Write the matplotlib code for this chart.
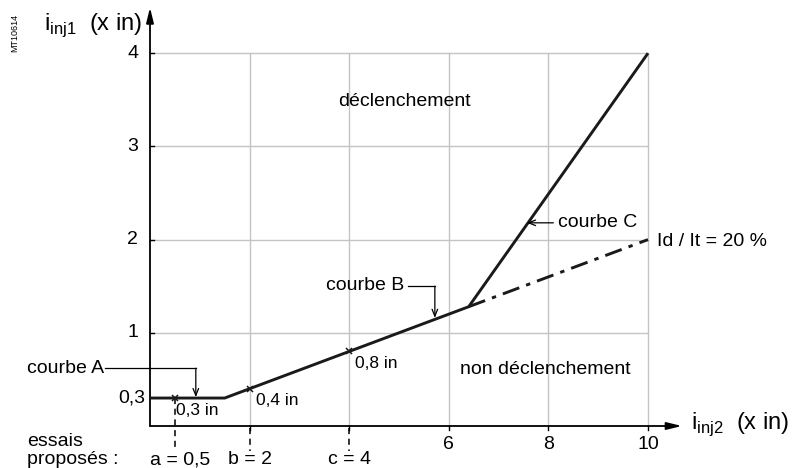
import matplotlib.pyplot as plt

plt.rcParams['font.family'] = ['Liberation Sans', 'DejaVu Sans']

# tripping curve (x in units of in)
curve_x = [0, 1.5, 6.4, 10]
curve_y = [0.3, 0.3, 1.28, 4.0]
# Id / It = 20 % continuation
dash_x = [6.4, 10]
dash_y = [1.28, 2.0]

# proposed tests
trial_x = [0.5, 2, 4]
trial_y = [0.3, 0.4, 0.8]
trial_vals = ["0,3 in", "0,4 in", "0,8 in"]
trial_names = ["a = 0,5", "b = 2", "c = 4"]

x_grid = [2, 4, 6, 8, 10]
y_grid = [1, 2, 3, 4]
y_ticklabels = ["1", "2", "3", "4"]
x_ticklabels = ["6", "8", "10"]
x_ticklabel_pos = [6, 8, 10]

W, H = 803, 468
fig = plt.figure(figsize=(W / 100, H / 100), dpi=100)
ax = fig.add_axes([0, 0, 1, 1])
# origin at pixel (150, 426), 49.8 px per x unit, 93.2 px per y unit
x0, y0, sx, sy = 150, 426, 49.8, 93.2
ax.set_xlim(-x0 / sx, (W - x0) / sx)
ax.set_ylim(-(H - y0) / sy, y0 / sy)
ax.axis('off')

grid_c = '#c4c4c4'
for gx in x_grid:
    ax.plot([gx, gx], [0, 4], color=grid_c, lw=1.0, zorder=1)
for gy in y_grid:
    ax.plot([0, 10], [gy, gy], color=grid_c, lw=1.0, zorder=1)

# axes with arrow heads
ax.annotate('', xy=(10.68, 0), xytext=(0, 0),
            arrowprops=dict(arrowstyle='-|>,head_length=0.9,head_width=0.22',
                            color='black', lw=1.3, shrinkA=0, shrinkB=0))
ax.annotate('', xy=(0, 4.49), xytext=(0, 0),
            arrowprops=dict(arrowstyle='-|>,head_length=0.9,head_width=0.22',
                            color='black', lw=1.3, shrinkA=0, shrinkB=0))

# ticks
for gx in x_grid:
    ax.plot([gx, gx], [0, -0.04], color='black', lw=1.0)
for gy in y_grid:
    ax.plot([0, 0.08], [gy, gy], color='black', lw=1.0)

fs = 14
for gy, lab in zip(y_grid, y_ticklabels):
    ax.text(-0.24, gy, lab, ha='right', va='center', fontsize=fs)
ax.text(-0.1, 0.3, "0,3", ha='right', va='center', fontsize=fs)
for px, lab in zip(x_ticklabel_pos, x_ticklabels):
    ax.text(px, -0.2, lab, ha='center', va='center', fontsize=fs)

# curves
ax.plot(curve_x, curve_y, color='#1a1a1a', lw=2.1, solid_capstyle='butt', zorder=3)
ax.plot(dash_x, dash_y, color='#1a1a1a', lw=2.1, dashes=(6, 2.5, 1.5, 2.5), zorder=3)

# test points
ax.plot(trial_x, trial_y, 'x', color='#1a1a1a', ms=5, mew=1.1, zorder=4)
for tx, ty, lab in zip(trial_x, trial_y, trial_vals):
    ax.text(tx + 0.02 if tx < 1 else tx + 0.12, ty - 0.05, lab,
            ha='left', va='top', fontsize=12.5)
ax.plot([trial_x[0], trial_x[0]], [trial_y[0], -0.27], color='black', lw=1.1,
        dashes=(4, 3), zorder=2)
for tx in trial_x[1:]:
    ax.plot([tx, tx], [-0.02, -0.27], color='black', lw=1.1, dashes=(4, 3), zorder=2)
for tx, lab in zip(trial_x, trial_names):
    off = 0.1 if tx < 1 else 0.0
    ax.text(tx + off, -0.36, lab, ha='center', va='center', fontsize=fs)
ax.text(-2.47, -0.17, "essais", ha='left', va='center', fontsize=fs)
ax.text(-2.47, -0.355, "proposés :", ha='left', va='center', fontsize=fs)

# region labels
ax.text(5.1, 3.48, "déclenchement", ha='center', va='center', fontsize=fs)
ax.text(7.93, 0.61, "non déclenchement", ha='center', va='center', fontsize=fs)

arrow = dict(arrowstyle='->,head_length=0.5,head_width=0.2', color='black', lw=0.9,
             shrinkA=0, shrinkB=0)
# courbe A
ax.text(-2.47, 0.62, "courbe A", ha='left', va='center', fontsize=fs)
ax.plot([-0.9, 0.92], [0.62, 0.62], color='black', lw=0.9)
ax.annotate('', xy=(0.92, 0.31), xytext=(0.92, 0.62), arrowprops=arrow)
# courbe B
ax.text(5.1, 1.51, "courbe B", ha='right', va='center', fontsize=fs)
ax.plot([5.18, 5.72], [1.50, 1.50], color='black', lw=0.9)
ax.annotate('', xy=(5.72, 1.16), xytext=(5.72, 1.50), arrowprops=arrow)
# courbe C
ax.annotate('', xy=(7.57, 2.18), xytext=(8.1, 2.18), arrowprops=arrow)
ax.text(8.2, 2.18, "courbe C", ha='left', va='center', fontsize=fs)

ax.text(10.18, 1.98, "Id / It = 20 %", ha='left', va='center', fontsize=fs)

# axis titles
ax.text(-2.12, 4.30, r"i$_{\mathregular{inj1}}$  (x in)", ha='left', va='center', fontsize=17)
ax.text(10.86, 0.02, r"i$_{\mathregular{inj2}}$  (x in)", ha='left', va='center', fontsize=17)
ax.text(-2.71, 4.22, "MT10614", rotation=90, ha='center', va='center', fontsize=6.5)

fig.savefig("out.png", dpi=100)
